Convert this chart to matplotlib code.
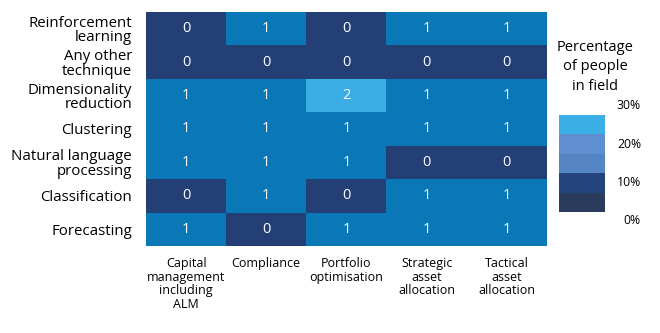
import numpy as np
import matplotlib
matplotlib.use('Agg')
import matplotlib.pyplot as plt
from matplotlib.colors import ListedColormap, BoundaryNorm

plt.rcParams['font.family'] = ['Open Sans', 'DejaVu Sans']

techniques = ['Reinforcement\nlearning', 'Any other\ntechnique', 'Dimensionality\nreduction',
              'Clustering', 'Natural language\nprocessing', 'Classification', 'Forecasting']
fields = ['Capital\nmanagement\nincluding\nALM', 'Compliance', 'Portfolio\noptimisation',
          'Strategic\nasset\nallocation', 'Tactical\nasset\nallocation']

# number of people per technique / field
counts = np.array([
    [0, 1, 0, 1, 1],
    [0, 0, 0, 0, 0],
    [1, 1, 2, 1, 1],
    [1, 1, 1, 1, 1],
    [1, 1, 1, 0, 0],
    [0, 1, 0, 1, 1],
    [1, 0, 1, 1, 1],
])

cell_colors = ['#243f76', '#0a77b7', '#3aaee4']
legend_colors = ['#2b3b5c', '#23447d', '#5585c5', '#5f8fd0', '#3aaee5']
legend_labels = ['0%', '10%', '20%', '30%']

fig = plt.figure(figsize=(6.6, 3.33), dpi=100)
ax = fig.add_axes([146/660, 1-246/333, 401/660, 234/333])

cmap = ListedColormap(cell_colors)
norm = BoundaryNorm([-0.5, 0.5, 1.5, 2.5], 3)
ax.imshow(counts, cmap=cmap, norm=norm, aspect='auto')
for i in range(counts.shape[0]):
    for j in range(counts.shape[1]):
        ax.text(j, i, str(counts[i, j]), ha='center', va='center', color='white', fontsize=10.5)

ax.set_xticks(range(len(fields)))
ax.set_xticklabels(fields, fontsize=9, linespacing=1.05, va='top')
ax.set_yticks(range(len(techniques)))
ax.set_yticklabels(techniques, fontsize=10.8, linespacing=0.95)
ax.tick_params(length=0, pad=10)
ax.tick_params(axis='x', pad=8)
for s in ax.spines.values():
    s.set_visible(False)

# legend bar
cax = fig.add_axes([559/660, 1-212/333, 46/660, 97/333])
cax.imshow(np.arange(len(legend_colors))[::-1].reshape(-1, 1), cmap=ListedColormap(legend_colors),
           aspect='auto')
cax.set_axis_off()

fig.text(595/660, 1-67/333, 'Percentage\nof people\nin field', ha='center', va='center',
         fontsize=10.5, linespacing=1.45)
for k, lab in enumerate(legend_labels):
    y = 221 - k * 38.5
    fig.text(641/660, 1-y/333, lab, ha='right', va='center', fontsize=8.8)

fig.savefig('out.png', dpi=100)
